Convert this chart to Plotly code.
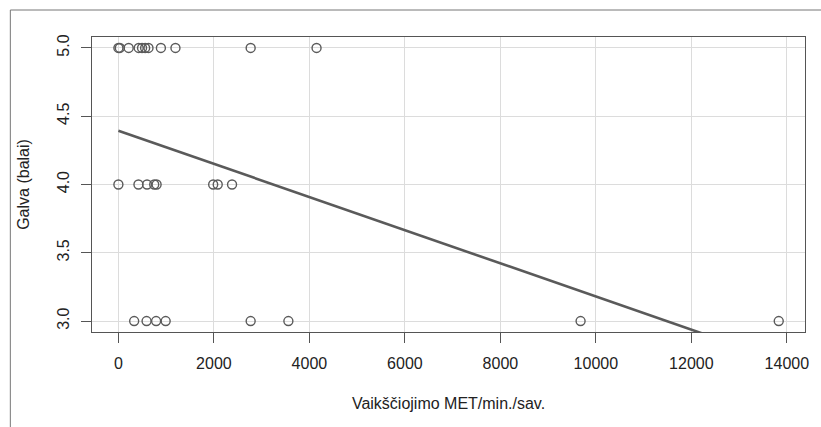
import plotly.graph_objects as go

# Data
met_score5 = [0, 30, 215, 425, 495, 560, 630, 890, 1195, 2770, 4150]
met_score4 = [0, 420, 600, 750, 800, 1985, 2080, 2380]
met_score3 = [330, 590, 790, 990, 2770, 3560, 9680, 13830]

walking_met = met_score5 + met_score4 + met_score3
head_score = [5.0] * len(met_score5) + [4.0] * len(met_score4) + [3.0] * len(met_score3)

trend_x = [0, 13830]
trend_y = [4.394, 2.715]

x_ticks = [0, 2000, 4000, 6000, 8000, 10000, 12000, 14000]
y_ticks = [3.0, 3.5, 4.0, 4.5, 5.0]
y_tick_labels = ["3.0", "3.5", "4.0", "4.5", "5.0"]

fig = go.Figure()
fig.add_trace(go.Scatter(
    x=walking_met, y=head_score, mode="markers",
    marker=dict(symbol="circle-open", size=9, color="#5a5a5a", line=dict(width=1.4, color="#5a5a5a")),
    showlegend=False, cliponaxis=True,
))
fig.add_trace(go.Scatter(
    x=trend_x, y=trend_y, mode="lines",
    line=dict(color="#5a5a5a", width=2.6),
    showlegend=False,
))

axis_common = dict(
    showline=True, linecolor="#555555", linewidth=1, mirror=True,
    ticks="outside", ticklen=10, tickcolor="#555555", tickwidth=1,
    showgrid=True, gridcolor="#dcdcdc", gridwidth=1, zeroline=False,
    tickfont=dict(family="Liberation Sans, Arial, sans-serif", size=16, color="#222222"),
)

fig.update_layout(
    width=821, height=427,
    margin=dict(l=92, r=13, t=37, b=95),
    paper_bgcolor="white", plot_bgcolor="white",
    font=dict(family="Liberation Sans, Arial, sans-serif", size=16, color="#222222"),
    xaxis=dict(
        range=[-553, 14380], tickmode="array", tickvals=x_ticks,
        ticktext=[str(v) for v in x_ticks], ticklabelstandoff=7,
        title=dict(text="Vaikščiojimo MET/min./sav.", standoff=26,
                   font=dict(size=16, color="#222222")),
        **axis_common,
    ),
    yaxis=dict(
        range=[2.92, 5.08], tickmode="array", tickvals=y_ticks, ticktext=y_tick_labels,
        tickangle=-90, ticklabelstandoff=6,
        title=dict(text="Galva (balai)", standoff=20, font=dict(size=16, color="#222222")),
        **axis_common,
    ),
    shapes=[dict(
        type="rect", xref="paper", yref="paper",
        x0=(10 - 92) / 716, x1=(840 - 92) / 716,
        y0=(332 - 450) / 295, y1=(332 - 10) / 295,
        line=dict(color="#777777", width=1), fillcolor="rgba(0,0,0,0)", layer="below",
    )],
)

fig.write_html("out.html")
